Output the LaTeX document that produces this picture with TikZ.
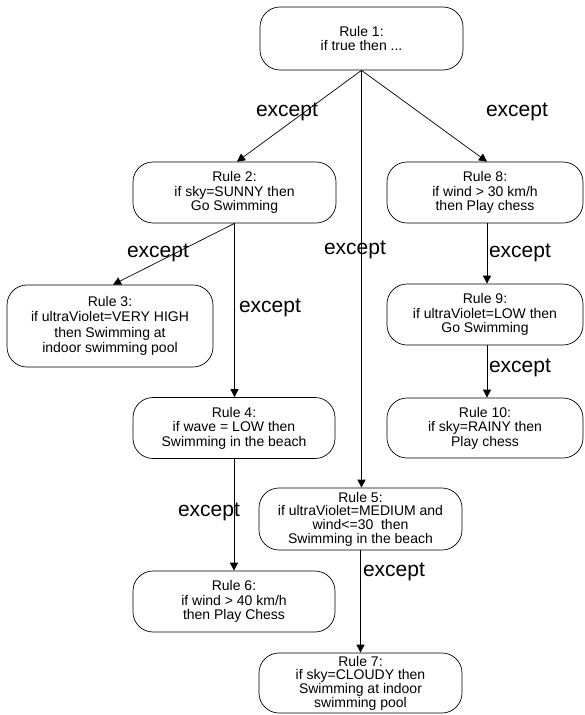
\documentclass[tikz,border=0pt]{standalone}
\usepackage{fontspec}
\setmainfont{Liberation Sans}
\usetikzlibrary{arrows.meta}
\begin{document}
\begin{tikzpicture}[x=1pt,y=-1pt,
  rulebox/.style={draw=black, line width=0.7pt, rounded corners=20pt, align=center,
    inner sep=1pt, font=\fontsize{14}{14.5}\selectfont},
  tight/.style={font=\fontsize{14}{13.7}\selectfont},
  loose/.style={font=\fontsize{14}{15.5}\selectfont},
  lbl/.style={inner sep=0pt, font=\fontsize{21}{24}\selectfont},
  arr/.style={draw=black, line width=0.7pt, -{Triangle[length=8pt,width=8pt]}}]
\useasboundingbox (0,0) rectangle (585,715);
\node[rulebox, minimum width=203pt, minimum height=63pt] (r1) at (361.5,38.5) {Rule 1:\\if true then ...};
\node[rulebox, minimum width=203pt, minimum height=61pt] (r2) at (234.5,192.5) {Rule 2:\\if sky=SUNNY then\\Go Swimming};
\node[rulebox, minimum width=196pt, minimum height=61pt] (r8) at (485,192.5) {Rule 8:\\if wind > 30 km/h\\ then Play chess};
\node[rulebox, loose, minimum width=206pt, minimum height=82pt] (r3) at (110,326) {Rule 3:\\if ultraViolet=VERY HIGH\\then Swimming at\\indoor swimming pool};
\node[rulebox, minimum width=196pt, minimum height=61pt] (r9) at (485,314.5) {Rule 9:\\if ultraViolet=LOW then\\Go Swimming};
\node[rulebox, minimum width=196pt, minimum height=60pt] (r10) at (485,428) {Rule 10:\\if sky=RAINY then\\Play chess};
\node[rulebox, minimum width=202pt, minimum height=61pt] (r4) at (234,428) {Rule 4:\\if wave = LOW then\\Swimming in the beach};
\node[rulebox, tight, minimum width=203pt, minimum height=62pt] (r5) at (360.5,519) {Rule 5:\\if ultraViolet=MEDIUM and\\wind<=30~~then\\Swimming in the beach};
\node[rulebox, minimum width=202pt, minimum height=61pt] (r6) at (234,601.5) {Rule 6:\\if wind > 40 km/h\\then Play Chess};
\node[rulebox, tight, minimum width=203pt, minimum height=60pt] (r7) at (360.5,683) {Rule 7:\\if sky=CLOUDY then\\Swimming at indoor\\swimming pool};

\draw[arr] (r1.south) -- ([xshift=2.5pt]r2.north);
\draw[arr] (r1.south) -- ([xshift=2pt]r8.north);
\draw[arr] (r1.south) -- (r1.south |- r5.north);
\draw[arr] (r2.south) -- ([xshift=3pt]r3.north);
\draw[arr] (r2.south) -- (r2.south |- r4.north);
\draw[arr] ([xshift=2pt]r8.south) -- ([xshift=2pt]r9.north);
\draw[arr] ([xshift=2pt]r9.south) -- ([xshift=2pt]r10.north);
\draw[arr] (r4.south) -- (r4.south |- r6.north);
\draw[arr] (r5.south) -- (r5.south |- r7.north);

\node[lbl] (l1) at (287,112) {except};
\node[lbl] (l2) at (517,112) {except};
\node[lbl] (l3) at (355,250) {except};
\node[lbl] (l4) at (158,253) {except};
\node[lbl] (l5) at (270,308) {except};
\node[lbl] (l6) at (520,253) {except};
\node[lbl] (l7) at (520,368) {except};
\node[lbl] (l8) at (209,512) {except};
\node[lbl] (l9) at (394,572) {except};
\end{tikzpicture}
\end{document}
